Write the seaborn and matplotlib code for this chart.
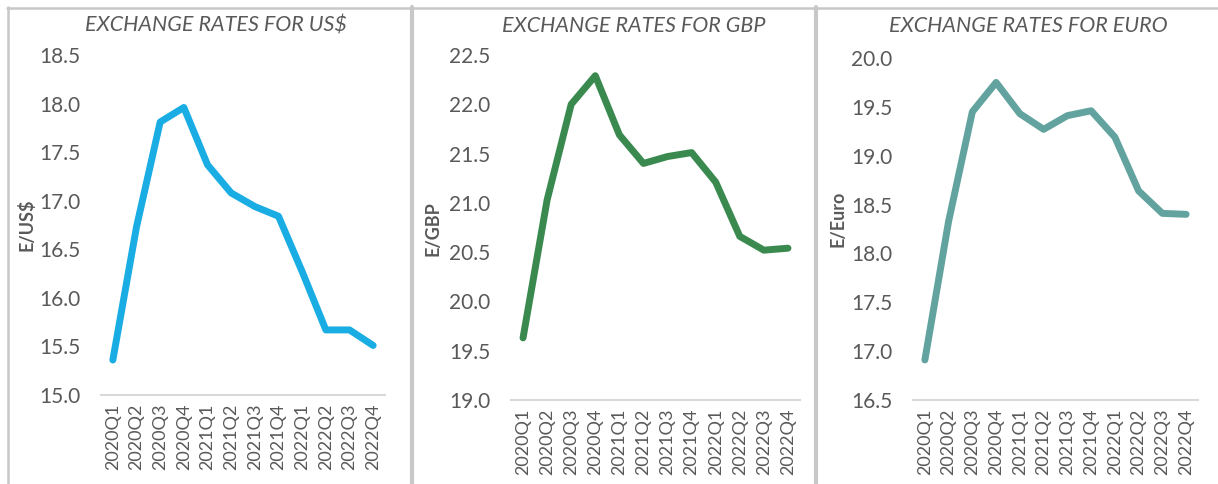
import matplotlib
matplotlib.use("Agg")
import matplotlib.pyplot as plt
import seaborn as sns
from matplotlib.lines import Line2D

# data
quarters = ["2020Q1", "2020Q2", "2020Q3", "2020Q4",
            "2021Q1", "2021Q2", "2021Q3", "2021Q4",
            "2022Q1", "2022Q2", "2022Q3", "2022Q4"]
usd = [15.36, 16.73, 17.81, 17.96, 17.37, 17.08, 16.94, 16.84, 16.27, 15.67, 15.67, 15.51]
gbp = [19.63, 21.03, 22.00, 22.29, 21.69, 21.40, 21.47, 21.51, 21.21, 20.66, 20.52, 20.54]
euro = [16.91, 18.33, 19.45, 19.75, 19.43, 19.27, 19.41, 19.46, 19.19, 18.64, 18.41, 18.40]

titles = ["EXCHANGE RATES FOR US$", "EXCHANGE RATES FOR GBP", "EXCHANGE RATES FOR EURO"]
ylabels = ["E/US$", "E/GBP", "E/Euro"]
ylims = [(15.0, 18.5), (19.0, 22.5), (16.5, 20.0)]
colors = ["#1AADE4", "#3A8A50", "#62A39F"]

sns.set_style("white")
plt.rcParams["font.family"] = ["Lato", "DejaVu Sans"]
grey = "#595959"

W, H = 1218, 484
fig = plt.figure(figsize=(W / 100, H / 100), dpi=100)

# axes boxes in pixels: left, right, top, bottom
boxes = [(101, 385, 55, 395), (511, 800, 55, 400), (913, 1198, 58, 400)]
title_x = [216, 634, 1028]
ylab_pos = [(27, 225), (433, 229), (838, 219)]

for i, vals in enumerate([usd, gbp, euro]):
    l, r, t, b = boxes[i]
    ax = fig.add_axes([l / W, 1 - b / H, (r - l) / W, (b - t) / H])
    sns.lineplot(x=list(range(len(quarters))), y=vals, ax=ax, color=colors[i],
                 linewidth=5, solid_capstyle="round", solid_joinstyle="round")
    lo, hi = ylims[i]
    ax.set_ylim(lo, hi)
    ax.set_yticks([lo + 0.5 * k for k in range(8)])
    ax.set_yticklabels([f"{lo + 0.5 * k:.1f}" for k in range(8)], fontsize=15, color=grey)
    ax.set_xlim(-0.5, len(quarters) - 0.5)
    ax.set_xticks(range(len(quarters)))
    ax.set_xticklabels(quarters, rotation=90, fontsize=13, color=grey)
    ax.tick_params(axis="y", length=0, pad=15)
    ax.tick_params(axis="x", length=0, pad=6)
    for s in ["left", "right", "top"]:
        ax.spines[s].set_visible(False)
    ax.spines["bottom"].set_color("#d9d9d9")
    ax.spines["bottom"].set_linewidth(1.5)
    ax.set_xlabel("")
    ax.set_ylabel("")
    fig.text(title_x[i] / W, 1 - 26 / H, titles[i], ha="center", va="center",
             fontsize=15.5, style="italic", color=grey)
    fig.text(ylab_pos[i][0] / W, 1 - ylab_pos[i][1] / H, ylabels[i], rotation=90,
             ha="center", va="center", fontsize=13, fontweight="bold", color=grey)

# panel borders
border = "#c8c8c8"
fig.add_artist(Line2D([7 / W, 1], [1 - 8 / H, 1 - 8 / H], color=border, lw=1.8))
fig.add_artist(Line2D([8 / W, 8 / W], [0, 1 - 7 / H], color=border, lw=1.8))
for x in [412, 816]:
    fig.add_artist(Line2D([x / W, x / W], [0, 1 - 7 / H], color=border, lw=3))

fig.savefig("out.png", dpi=100)
